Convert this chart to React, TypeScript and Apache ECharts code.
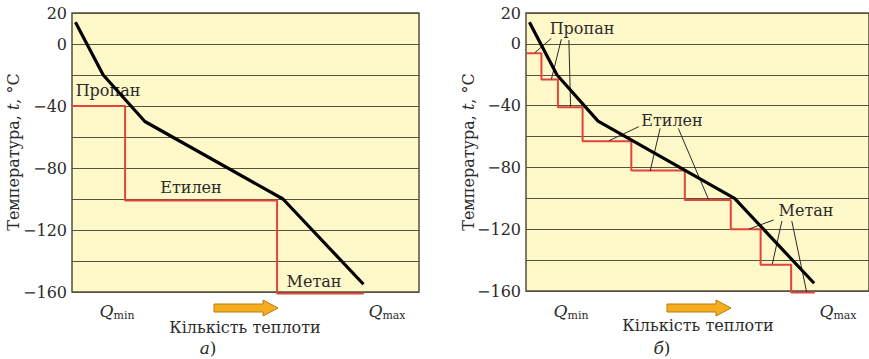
import React, { useEffect, useRef } from "react";
import * as echarts from "echarts";

// Heat quantity (arbitrary 0..100 scale from Qmin to Qmax) and temperature, °C
const Q_CURVE = [1, 9, 21, 60.8, 84];
const T_CURVE = [14, -20, -50, -100, -155];

// (a) three-stage cascade: Propane, Ethylene, Methane
const Q_STEP_A = [0, 15.3, 59.1, 84.1];
const T_STEP_A = [-40, -101, -161];

// (b) nine-stage cascade
const Q_STEP_B = [0, 4.5, 9.3, 16.5, 30.7, 46.3, 59.7, 68.4, 77.3, 84.2];
const T_STEP_B = [-6, -23, -41, -63, -82, -101, -120, -143, -161];

const Y_TICK_LABELS = [20, 0, -40, -80, -120, -160];

// leader lines in panel (b): [q1, t1, q2, t2]
const LEADERS_B = [
  [7.4, 3.6, 2.6, -5.7],
  [10.3, 3.0, 7.4, -22.9],
  [12.5, 2.5, 13.0, -40.7],
  [32.9, -53.6, 24.2, -62.7],
  [39.1, -54.7, 36.2, -82.3],
  [44.4, -54.7, 53.2, -100.6],
  [72.2, -114, 65.0, -119.9],
  [74.6, -114.7, 71.8, -142.7],
  [77.5, -114.7, 81.8, -160.5],
];

const FONT = "DejaVu Serif";
const FS = 16;
const TXT = "#2b2b2b";

function stepPoints(qs: number[], ts: number[]) {
  const pts: number[][] = [];
  for (let i = 0; i < ts.length; i++) {
    pts.push([qs[i], ts[i]]);
    pts.push([qs[i + 1], ts[i]]);
  }
  return pts;
}

function curvePoints(qs: number[], ts: number[]) {
  return qs.map((q, i) => [q, ts[i]]);
}

function yAxis(gridIndex: number) {
  return {
    type: "value",
    gridIndex,
    min: -160,
    max: 20,
    interval: 20,
    axisLine: { show: false },
    axisTick: { show: false },
    axisLabel: {
      margin: 5,
      fontFamily: FONT,
      fontSize: FS,
      color: TXT,
      formatter: (v: number) =>
        Y_TICK_LABELS.includes(v) ? String(v).replace("-", "\u2212") : "",
    },
    splitLine: { show: true, lineStyle: { color: "#55533f", width: 1.2 } },
  };
}

function xAxis(gridIndex: number) {
  return { type: "value", gridIndex, min: 0, max: 100, show: false };
}

function arrow(x: number, y: number) {
  return {
    type: "polygon",
    shape: {
      points: [
        [x, y - 4],
        [x + 49, y - 4],
        [x + 49, y - 8],
        [x + 64, y],
        [x + 49, y + 8],
        [x + 49, y + 4],
        [x, y + 4],
      ],
    },
    style: { fill: "#f4ad1f", stroke: "#b97d0c", lineWidth: 1 },
  };
}

function text(x: number, y: number, t: string, extra: any = {}) {
  return {
    type: "text",
    x,
    y,
    style: {
      text: t,
      fontFamily: FONT,
      fontSize: FS,
      fill: TXT,
      align: "center",
      verticalAlign: "middle",
      ...extra,
    },
  };
}

const Q_RICH = {
  q: { fontFamily: FONT, fontSize: 17, fontStyle: "italic", fill: TXT, color: TXT },
  s: { fontFamily: FONT, fontSize: 11, fill: TXT, color: TXT, padding: [8, 0, 0, 0] },
};

const Y_RICH = {
  a: { fontFamily: FONT, fontSize: FS, fill: TXT, color: TXT },
  i: { fontFamily: FONT, fontSize: FS, fontStyle: "italic", fill: TXT, color: TXT },
};

const P_RICH = {
  i: { fontFamily: FONT, fontSize: 17, fontStyle: "italic", fill: TXT, color: TXT },
  a: { fontFamily: FONT, fontSize: 17, fill: TXT, color: TXT },
};

export default function App() {
  const ref = useRef<HTMLDivElement>(null);
  useEffect(() => {
    document.body.style.margin = "0";
    const chart = echarts.init(ref.current!, null, { renderer: "svg" });
    const lineBase = { type: "line", symbol: "none", clip: false, silent: true };
    const series: any[] = [
      {
        ...lineBase,
        xAxisIndex: 0,
        yAxisIndex: 0,
        data: stepPoints(Q_STEP_A, T_STEP_A),
        lineStyle: { color: "#e0443a", width: 2 },
      },
      {
        ...lineBase,
        xAxisIndex: 0,
        yAxisIndex: 0,
        data: curvePoints(Q_CURVE, T_CURVE),
        lineStyle: { color: "#000", width: 3.2 },
      },
      {
        ...lineBase,
        xAxisIndex: 1,
        yAxisIndex: 1,
        data: stepPoints(Q_STEP_B, T_STEP_B),
        lineStyle: { color: "#e0443a", width: 2 },
      },
      ...LEADERS_B.map((l) => ({
        ...lineBase,
        xAxisIndex: 1,
        yAxisIndex: 1,
        data: [
          [l[0], l[1]],
          [l[2], l[3]],
        ],
        lineStyle: { color: "#2a2a2a", width: 1 },
      })),
      {
        ...lineBase,
        xAxisIndex: 1,
        yAxisIndex: 1,
        data: curvePoints(Q_CURVE, T_CURVE),
        lineStyle: { color: "#000", width: 3.2 },
      },
    ];
    chart.setOption({
      animation: false,
      backgroundColor: "#ffffff",
      textStyle: { fontFamily: FONT },
      grid: [
        {
          left: 72,
          top: 13,
          width: 347,
          height: 279,
          show: true,
          backgroundColor: "#fff8c8",
          borderColor: "#4f4d3c",
          borderWidth: 1.5,
        },
        {
          left: 526,
          top: 13,
          width: 347,
          height: 278,
          show: true,
          backgroundColor: "#fff8c8",
          borderColor: "#4f4d3c",
          borderWidth: 1.5,
        },
      ],
      xAxis: [xAxis(0), xAxis(1)],
      yAxis: [yAxis(0), yAxis(1)],
      series,
      graphic: [
        text(108, 90, "Пропан"),
        text(191, 187, "Етилен"),
        text(314, 281, "Метан"),
        text(582, 28, "Пропан"),
        text(672, 120, "Етилен"),
        text(806, 210, "Метан"),
        {
          type: "text",
          x: 13,
          y: 152,
          rotation: Math.PI / 2,
          style: {
            text: "{a|Температура, }{i|t}{a|, °C}",
            rich: Y_RICH,
            align: "center",
            verticalAlign: "middle",
            fontFamily: FONT,
            fontSize: FS,
          },
        },
        {
          type: "text",
          x: 468,
          y: 152,
          rotation: Math.PI / 2,
          style: {
            text: "{a|Температура, }{i|t}{a|, °C}",
            rich: Y_RICH,
            align: "center",
            verticalAlign: "middle",
            fontFamily: FONT,
            fontSize: FS,
          },
        },
        text(117, 311, "{q|Q}{s|min}", { rich: Q_RICH }),
        text(387, 311, "{q|Q}{s|max}", { rich: Q_RICH }),
        text(571, 311, "{q|Q}{s|min}", { rich: Q_RICH }),
        text(838, 311, "{q|Q}{s|max}", { rich: Q_RICH }),
        arrow(214, 308),
        arrow(667, 308),
        text(245, 327, "Кількість теплоти"),
        text(698, 325, "Кількість теплоти"),
        text(208, 348, "{i|а}{a|)}", { rich: P_RICH }),
        text(662, 348, "{i|б}{a|)}", { rich: P_RICH }),
      ],
    });
    return () => chart.dispose();
  }, []);
  return <div ref={ref} style={{ width: 869, height: 359 }} />;
}
